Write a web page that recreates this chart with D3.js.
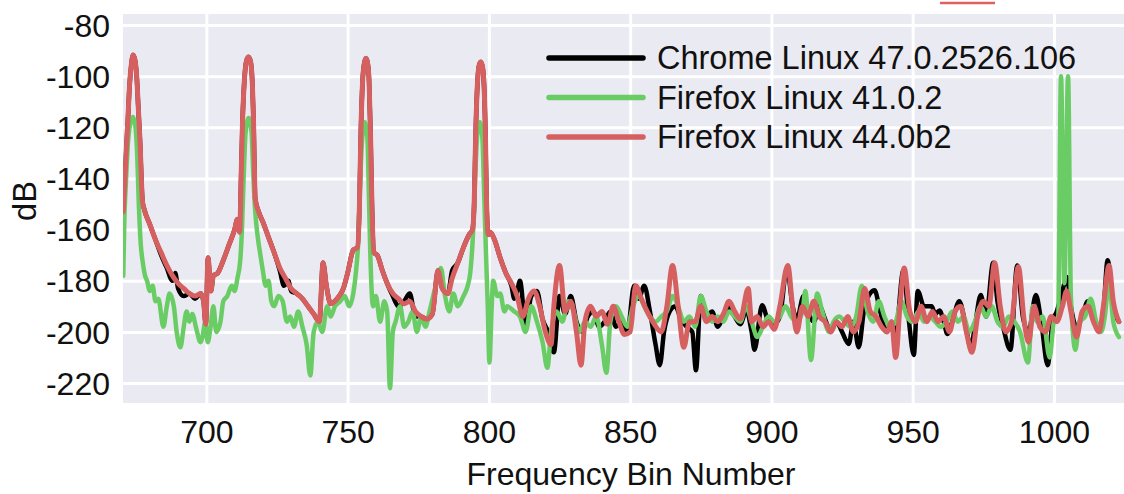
<!DOCTYPE html>
<html>
<head>
<meta charset="utf-8">
<script src="https://cdn.jsdelivr.net/npm/d3@7"></script>
<style>
  body { margin: 0; background: #fff; }
  text { font-family: "Liberation Sans", Arial, sans-serif; fill: #111; }
</style>
</head>
<body>
<svg id="chart" width="1124" height="494"></svg>
<script>

// series labels, in legend order
const seriesNames = ["Chrome Linux 47.0.2526.106", "Firefox Linux 41.0.2", "Firefox Linux 44.0b2"]

const xTicks = [700, 750, 800, 850, 900, 950, 1000]
const yTicks = [-80, -100, -120, -140, -160, -180, -200, -220]

// [bin, dB]
const firefox44 = [
  [670.6,-153],[671.2,-140],[671.7,-128],[672.2,-118],[672.8,-104],[673.4,-96],[674.1,-91.7],[674.8,-94],[675.4,-101],[675.9,-112],[676.5,-125],
  [677.4,-149],[678,-152],
  [680,-158],[682,-164],[684,-169],[686,-174],[688,-178],[690,-181],[692,-183],[694,-185],[696,-186],[698,-185],[699,-188],[699.8,-197],[700.6,-171],
  [701.6,-184],[702.5,-178],[704,-177],[706,-172],[708,-166],[710,-160],[711,-156],[711.8,-161],[712.3,-140],[712.8,-118],[713.5,-101],[714.2,-94],
  [714.9,-92.5],[715.6,-94],[716.2,-101],[716.7,-118],[717.3,-148],[718.5,-153],[720,-157],[722,-163],[724,-169],[726,-175],[728,-179],[730,-183],
  [732,-185],[734,-187],[736,-190],[738,-193],[740,-196],[741.3,-173],[742.5,-182],[744,-189],[745.5,-188],[747,-186],[748.5,-183],[750,-177],
  [752,-168],[753.5,-167],[754.2,-150],[754.7,-122],[755.3,-102],[755.9,-95],[756.5,-93],[757.1,-95],[757.6,-102],[758.1,-122],[758.6,-150],
  [759.3,-169],[760.5,-170],[762.3,-176],[764,-181],[766,-185],[768,-187],[770,-189],[772,-188],[774,-192],[776,-194],[778,-195],[780,-193],
  [782,-176],[783.5,-183],[785.5,-185],[787,-179],[789,-173],[791,-167],[793,-162],[794.2,-160],[794.8,-150],[795.3,-124],[795.9,-104],
  [796.5,-96],[797.1,-94.5],[797.7,-96],[798.3,-104],[798.8,-124],[799.2,-150],[799.8,-162],[800.5,-161],[802,-164],[804,-171],[806,-177],
  [808,-181],[810,-186],[812,-194],[814,-187],[816,-184],[818,-190],[820,-200],[822,-205],[823,-190],
  [825,-174],[827,-192],[829,-188],[831,-200],[832.6,-213],[834,-196],[836,-190],[838,-194],[840,-192],[842,-197],[844,-190],[846,-196],[848,-201],
  [850,-200],[852,-182],[854,-187],[856,-192],[858,-196],[861,-200],[863,-190],[865,-174],[867,-190],[869,-206],[871,-196],[873,-196],[875,-190],
  [877,-196],[879,-194],[881,-196],[883,-193],[885,-188],[887,-192],[889,-195],[891.8,-183],[893,-196],[895,-194],[897,-198],[899,-196],[901,-199],
  [903,-190],[905.8,-174],[907.5,-190],[909,-200],[911,-190],[913,-194],[915,-188],[917,-194],[919,-196],[921,-200],[923,-196],[925,-198],[927,-194],
  [929,-200],[931,-196],[933,-183],[935,-192],[937,-194],[939,-198],[941,-200],[942.5,-196],[944,-210],[945.5,-190],[947,-175],[949,-192],[951,-196],
  [953,-190],[955,-196],[957,-192],[959,-196],[961,-194],[963,-200],[965,-192],[967,-190],[969,-200],[971,-208],[973,-194],[975,-188],[977,-190],
  [979,-173],[981,-190],[983,-200],[985,-196],[987.4,-174.5],[989.5,-196],[991,-204],[993,-190],[995,-198],[997,-200],[999,-194],[1001,-196],
  [1003,-190],[1004.5,-184],[1006,-192],[1008,-202],[1010,-192],[1012,-190],[1014,-196],[1016,-200],[1017.5,-190],[1019.5,-174],[1021,-188],[1023,-196]
]

const chrome47 = [
  [670.6,-153],[671.2,-140],[671.7,-128],[672.2,-118],[672.8,-104],[673.4,-96],[674.1,-91.7],[674.8,-94],[675.4,-101],[675.9,-112],[676.5,-125],
  [677.4,-149],[678,-152],
  [680,-158],[682,-164],[684,-170],[686,-175],[688,-180],[689,-177],[690,-183],[692,-186],[694,-185],[696,-187],[698,-185],[699,-188],[699.8,-197],
  [700.6,-171],[701.6,-184],[702.5,-178],[704,-177],[706,-172],[708,-166],[710,-160],[711,-156],[711.8,-161],[712.3,-140],[712.8,-118],[713.5,-101],
  [714.2,-94],[714.9,-92.5],[715.6,-94],[716.2,-101],[716.7,-118],[717.3,-148],[718.5,-153],[720,-157],[722,-163],[724,-169],[726,-176],
  [727.5,-182],[729,-180],[730,-184],[732,-185],[734,-187],[736,-190],[738,-193],[740,-196],[741.3,-173],[742.5,-182],[744,-189],[745.5,-188],
  [747,-186],[748.5,-183],[750,-177],[752,-168],[753.5,-167],[754.2,-150],[754.7,-122],[755.3,-102],[755.9,-95],[756.5,-93],[757.1,-95],
  [757.6,-102],[758.1,-122],[758.6,-150],[759.3,-169],[760.5,-170],[762.3,-176],[764,-181],[766,-186],[768,-190],[770,-188],[772,-185],[774,-194],
  [776,-194],[778,-195],[780,-193],[782,-176],[783.5,-183],[785.5,-185],[787,-176],[789,-173],[791,-167],[793,-162],[794.2,-160],[794.8,-150],
  [795.3,-124],[795.9,-104],[796.5,-96],[797.1,-94.5],[797.7,-96],[798.3,-104],[798.8,-124],[799.2,-150],[799.8,-162],[800.5,-161],[802,-164],
  [804,-171],[806,-177],[808,-182],[809,-187],[810,-184],[811,-180],[813,-197],[815,-186],
  [817,-184],[819,-195],[821,-200],[823,-208],[825,-186],[827,-193],[829,-186],[831,-196],[833,-200],[835,-194],[837,-192],[839,-198],[841,-196],
  [843,-192],[845,-198],[847,-196],[849,-200],[851.4,-182],[853,-187],[855,-182],[857,-192],[859,-205],[860.5,-213],[862,-200],[864,-192],
  [866,-190],[868,-195],[870,-198],[872,-200],[873.3,-215],[875,-186],[877,-194],[879,-192],[881,-198],[883,-194],[885,-190],[887,-194],[889,-197],
  [891,-192],[893,-200],[894,-207],[896.7,-189.6],[899,-196],[901,-197],[903,-194],[905.5,-175],[907.5,-190],[909,-195],[911.4,-186],[913,-192],
  [915,-196],[917,-190],[919,-195],[921,-200],[923,-196],[925,-200],[927.4,-204.7],[929,-196],[930.9,-206],[933,-190],[936.5,-183.7],[938.5,-192],
  [940.7,-200],[942.5,-196],[944,-200],[946.7,-176],[948.5,-194],[950.4,-209],[951.8,-184],[954,-190],[956.7,-190],[958,-193],[959.5,-191.6],
  [961,-196],[962.3,-200.8],[964,-196],[966.5,-188],[968.5,-196],[970.6,-206],[972,-198],[974.1,-185.6],[976,-194],[978.5,-173],[980,-188],
  [982,-198],[984.6,-207],[987,-174],[989,-194],[991,-200],[993.6,-185.6],[995.5,-196],[997.8,-213],[999.5,-196],[1001,-192],[1003,-184],
  [1004.6,-178.5],[1006,-190],[1008,-198],[1010,-194],[1012,-188],[1014,-194],[1016,-198],[1017.5,-192],[1019,-172],[1021,-190],[1023,-196]
]

const firefox41 = [
  [670.6,-178],[670.9,-160],[671.6,-140],[672.4,-124],[673.2,-118],[674,-116],[674.8,-119],[675.5,-130],[676.1,-150],[676.8,-166],[677.4,-172],
  [678.3,-178],[679,-180],[680,-184],[681,-182],[682,-188],[683,-187],[684.8,-198],[686,-190],[687,-185],[688.5,-190],[689.5,-200],[690.8,-206],
  [692,-198],[693,-192],[694,-196],[695,-193],[696.5,-199],[697.9,-204],[698.8,-201],[699.6,-196],[700.5,-204],[701.5,-198],[702.5,-190],
  [703.5,-200],[705,-196],[706,-188],[707.4,-186],[709,-182],[710,-184],[711,-179],[712,-172],[712.6,-160],[713.2,-140],[713.9,-122],[715,-116.4],
  [716,-122],[716.6,-138],[717.3,-153],[718.2,-163],[719,-169],[720,-176],[721,-182],[722,-180],[723,-188],[724,-190],[725.5,-186],[727,-188],
  [728.5,-196],[729.7,-194],[731,-198],[732.5,-192],[734,-198],[735.5,-205],[736.8,-217],[738,-200],[739.5,-196],[741,-200],[742.8,-190],
  [744,-194],[745.5,-190],[747.4,-188],[749,-186],[750.5,-190],[752,-185],[753,-176],[753.8,-164],[754.5,-140],[755.2,-124],[756.1,-118],
  [757,-124],[757.5,-145],[758,-168],[759,-190],[760,-186],[761.5,-196],[763,-188],[764,-192],[765,-222],[766,-200],[767,-196],[768.6,-190],
  [770,-198],[771.5,-196],[773,-192],[774.5,-200],[776,-194],[777.5,-198],[779,-192],[780.5,-185],[782,-179],[783,-175],[784.5,-186],[786,-192],
  [787.4,-185],[789,-190],[791,-186],[792.5,-182],[793.4,-177],[794.5,-159],[795.2,-138],[795.9,-123],[796.8,-118],[797.7,-124],[798.3,-145],
  [799,-170],[799.6,-190],[800.2,-212],[801,-190],[801.5,-180],[803,-186],[804,-185],[805.5,-192],[806.5,-190],[809,-192],[811,-194],[813,-200],
  [815,-190],[817,-196],[819,-204],[820.7,-214],[822,-200],[824,-192],[826,-196],[828,-188],[830,-192],[832,-200],[834,-196],[836,-198],[838,-194],
  [840,-205],[841.6,-216],[843,-196],[845,-190],[847,-194],[849,-198],[851,-190],[853,-186],[855,-190],[857,-194],[859,-196],[861,-194],[863,-192],
  [865,-186],[867,-190],[869,-196],[871,-194],[873,-198],[875,-186],[877,-192],[879,-196],[881,-194],[883,-196],[885,-192],[887,-194],[889,-196],
  [891,-190],[893,-196],[895,-202],[897,-198],[899,-194],[901,-196],[903,-194],[905,-190],[907,-194],[909,-196],[911,-192],[912,-184],[914,-211],
  [916.2,-185],[918,-192],[920.4,-200],[922,-196],[924,-194],[926,-196],[928,-198],[930,-194],[932,-182],[934,-192],[936,-196],[938,-188],
  [940,-194],[942,-198],[944,-196],[946,-188],[948,-194],[950,-196],[952,-192],[954,-196],[956,-194],[958,-196],[960,-198],[962,-196],[964,-192],
  [966,-196],[968,-194],[970,-200],[972,-196],[974,-190],[976,-194],[978,-190],[980,-196],[982,-198],[984,-194],[986,-196],[988,-200],
  [990.8,-212],[992.5,-190],[994,-196],[996,-194],[998.5,-210],[1000,-196],[1001.5,-194],[1002.5,-100],[1003.7,-181],[1005,-100],[1006,-186],
  [1007.6,-207],[1009,-196],[1011,-194],[1013,-187],[1015,-196],[1016.7,-200],[1018,-194],[1019.5,-180],[1021,-196],[1023,-202]
]

const seriesData = [chrome47, firefox41, firefox44]
const seriesColors = ["#000000", "#6acc65", "#d65f5f"]
const seriesWidths = [4.5, 4.5, 5]

const svg = d3.select("#chart")
const plot = { left: 123, right: 1124, top: 14, bottom: 403 }

const x = d3.scaleLinear().domain([670.5, 1024.8]).range([plot.left, plot.right])
const y = d3.scaleLinear().domain([-227.8, -75.7]).range([plot.bottom, plot.top])

// seaborn darkgrid background
svg.append("rect")
    .attr("x", plot.left).attr("y", plot.top)
    .attr("width", plot.right - plot.left).attr("height", plot.bottom - plot.top)
    .attr("fill", "#eaeaf2")

svg.append("clipPath").attr("id", "clip")
  .append("rect")
    .attr("x", plot.left).attr("y", plot.top)
    .attr("width", plot.right - plot.left).attr("height", plot.bottom - plot.top)

// grid + tick labels (plain hyphen minus, no thousands comma)
const fmt = d => String(d)
const xAxis = d3.axisBottom(x).tickValues(xTicks).tickFormat(fmt).tickSize(-(plot.bottom - plot.top))
const yAxis = d3.axisLeft(y).tickValues(yTicks).tickFormat(fmt).tickSize(-(plot.right - plot.left))

const gx = svg.append("g").attr("transform", `translate(0,${plot.bottom})`).call(xAxis)
const gy = svg.append("g").attr("transform", `translate(${plot.left},0)`).call(yAxis)

for (const g of [gx, gy]) {
  g.select(".domain").remove()
  g.selectAll(".tick line").attr("stroke", "#fff").attr("stroke-width", 3)
  g.selectAll(".tick text")
    .attr("font-size", 32)
    .attr("font-family", '"Liberation Sans", Arial, sans-serif')
    .attr("fill", "#111")
}
gx.selectAll(".tick text").attr("dy", "0.71em").attr("y", 17)
gy.selectAll(".tick text").attr("dy", "0.35em").attr("x", -13)

// lines
const line = d3.line()
    .x(d => x(d[0]))
    .y(d => y(d[1]))
    .curve(d3.curveMonotoneX)

svg.append("g").attr("clip-path", "url(#clip)")
  .selectAll("path")
  .data(seriesData)
  .join("path")
    .attr("d", line)
    .attr("fill", "none")
    .attr("stroke", (d, i) => seriesColors[i])
    .attr("stroke-width", (d, i) => seriesWidths[i])
    .attr("stroke-linejoin", "round")
    .attr("stroke-linecap", "round")

// axis titles
svg.append("text")
    .attr("x", 631).attr("y", 485)
    .attr("text-anchor", "middle")
    .attr("font-size", 32)
    .text("Frequency Bin Number")

svg.append("text")
    .attr("transform", "translate(36,201) rotate(-90)")
    .attr("text-anchor", "middle")
    .attr("font-size", 32.5)
    .text("dB")

// legend
const legend = svg.append("g")
seriesNames.forEach(function(name, i) {
  const ly = 58 + i * 39.5
  legend.append("line")
      .attr("x1", 549).attr("x2", 643)
      .attr("y1", ly).attr("y2", ly)
      .attr("stroke", seriesColors[i])
      .attr("stroke-width", 5.5)
      .attr("stroke-linecap", "round")
  legend.append("text")
      .attr("x", 657).attr("y", ly)
      .attr("dy", "0.35em")
      .attr("font-size", 32.5)
      .text(name)
})

// red stroke cut off at the top edge of the picture
svg.append("line")
    .attr("x1", 940).attr("x2", 995)
    .attr("y1", 3).attr("y2", 3)
    .attr("stroke", "#e06060")
    .attr("stroke-width", 2.5)

</script>
</body>
</html>
